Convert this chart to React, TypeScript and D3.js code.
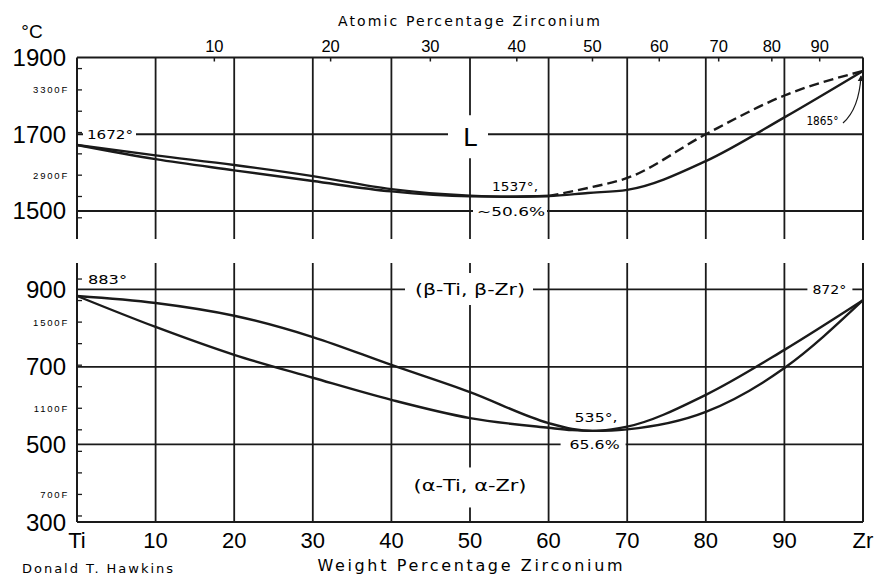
import React from 'react';
import * as d3 from 'd3';

const W = 877;
const H = 581;

// weight-percent grid & labels
const WT_GRID = [10, 20, 30, 40, 50, 60, 70, 80, 90];
const BOTTOM_WT = [0, 10, 20, 30, 40, 50, 60, 70, 80, 90, 100];
const BOTTOM_LABELS = ['Ti', '10', '20', '30', '40', '50', '60', '70', '80', '90', 'Zr'];
const ATOMIC_TICKS = [10, 20, 30, 40, 50, 60, 70, 80, 90];

// temperature axes
const UPPER_C_TICKS = [1900, 1700, 1500];
const LOWER_C_TICKS = [900, 700, 500, 300];
const UPPER_F_TICKS = [2700, 2800, 2900, 3000, 3100, 3200, 3300, 3400];
const LOWER_F_TICKS = [600, 700, 800, 900, 1000, 1100, 1200, 1300, 1400, 1500, 1600, 1700];
const UPPER_F_LABELS = [3300, 2900];
const LOWER_F_LABELS = [1500, 1100, 700];

// liquidus / solidus (weight % Zr, °C)
const LIQ_WT = [0, 10, 20, 30, 40, 50, 55, 60];
const LIQ_T = [1672, 1645, 1620, 1591, 1557, 1540, 1537, 1539];
const LIQ_DASH_WT = [60, 65, 70, 80, 90, 100];
const LIQ_DASH_T = [1539, 1560, 1586, 1700, 1801, 1865];
const SOL_WT = [0, 10, 20, 30, 40, 50, 55, 60, 65, 70, 80, 90, 100];
const SOL_T = [1672, 1635, 1606, 1578, 1551, 1538, 1537, 1539, 1547, 1555, 1630, 1744, 1865];

// beta / alpha transus (weight % Zr, °C)
const TR_WT = [0, 10, 20, 30, 40, 50, 60, 63, 65.6, 68, 70, 80, 90, 100];
const BETA_T = [883, 865, 832, 777, 705, 635, 555, 540, 535, 539, 546, 628, 744, 872];
const ALPHA_T = [883, 803, 731, 672, 615, 568, 543, 537, 535, 536, 539, 584, 697, 872];

const ZR = 91.22;
const TI = 47.87;
const atToWt = (a: number) => (100 * a * ZR) / (a * ZR + (100 - a) * TI);
const fToC = (f: number) => ((f - 32) * 5) / 9;

const x = d3.scaleLinear().domain([0, 100]).range([77, 863]);
const yU = d3.scaleLinear().domain([1427, 1900]).range([239, 57.5]);
const yL = d3.scaleLinear().domain([300, 968]).range([522, 263]);

const INK = '#1a1a1a';
const GRID_W = 1.8;
const SANS = 'Liberation Sans, Arial, sans-serif';
const LET = 'DejaVu Sans, Verdana, sans-serif';

const zip = (w: number[], t: number[]) => w.map((v, i) => ({ w: v, t: t[i] }));

export default function App() {
  const lineU = d3
    .line<{ w: number; t: number }>()
    .x((d) => x(d.w))
    .y((d) => yU(d.t))
    .curve(d3.curveMonotoneX);
  const lineL = d3
    .line<{ w: number; t: number }>()
    .x((d) => x(d.w))
    .y((d) => yL(d.t))
    .curve(d3.curveMonotoneX);

  const x0 = x(0);
  const x1 = x(100);
  const uTop = yU(1900);
  const uBot = yU(1427);
  const lTop = yL(968);
  const lBot = yL(300);

  const gaps = [
    { x: x0 + 6, y: yU(1700) - 6, w: 53, h: 12 },
    { x: x(50) - 22, y: yU(1700) - 6, w: 40, h: 12 },
    { x: x(50) - 5, y: yU(1700) - 19, w: 10, h: 43 },
    { x: x(50) + 3, y: yU(1500) - 6, w: 74, h: 12 },
    { x: x(50) - 65, y: yL(900) - 6, w: 128, h: 12 },
    { x: x(50) - 5, y: lTop + 10, w: 10, h: 32 },
    { x: x(90) + 23, y: yL(900) - 6, w: 45, h: 12 },
    { x: x(60) + 12, y: yL(500) - 6, w: 65, h: 12 },
    { x: x(50) - 5, y: yL(500) + 23, w: 10, h: 40 },
  ];

  return (
    <svg
      width={W}
      height={H}
      viewBox={`0 0 ${W} ${H}`}
      style={{ position: 'absolute', left: 0, top: 0, background: '#fff', display: 'block' }}
    >
      <defs>
        <marker id="arr" viewBox="0 0 10 10" refX="9" refY="5" markerWidth="5" markerHeight="6" orient="auto">
          <path d="M0,0 L10,5 L0,10 z" fill={INK} />
        </marker>
      </defs>
      <rect x={0} y={0} width={W} height={H} fill="#fff" />

      {WT_GRID.map((w) => (
        <g key={'v' + w}>
          <line x1={x(w)} x2={x(w)} y1={uTop} y2={uBot} stroke={INK} strokeWidth={GRID_W} />
          <line x1={x(w)} x2={x(w)} y1={lTop} y2={lBot} stroke={INK} strokeWidth={GRID_W} />
        </g>
      ))}
      {UPPER_C_TICKS.map((c) => (
        <line key={'hu' + c} x1={x0} x2={x1} y1={yU(c)} y2={yU(c)} stroke={INK} strokeWidth={GRID_W} />
      ))}
      {LOWER_C_TICKS.map((c) => (
        <line key={'hl' + c} x1={x0} x2={x1} y1={yL(c)} y2={yL(c)} stroke={INK} strokeWidth={GRID_W} />
      ))}
      <line x1={x0} x2={x0} y1={uTop} y2={uBot} stroke={INK} strokeWidth={2} />
      <line x1={x1} x2={x1} y1={uTop} y2={uBot + 1} stroke={INK} strokeWidth={2} />
      <line x1={x0} x2={x0} y1={lTop} y2={lBot} stroke={INK} strokeWidth={2} />
      <line x1={x1} x2={x1} y1={lTop} y2={lBot} stroke={INK} strokeWidth={2} />

      {gaps.map((g, i) => (
        <rect key={'g' + i} x={g.x} y={g.y} width={g.w} height={g.h} fill="#fff" />
      ))}

      {UPPER_F_TICKS.map((f) => (
        <line key={'fu' + f} x1={x0} x2={x0 + 5} y1={yU(fToC(f))} y2={yU(fToC(f))} stroke={INK} strokeWidth={1.3} />
      ))}
      {LOWER_F_TICKS.map((f) => (
        <line key={'fl' + f} x1={x0} x2={x0 + 5} y1={yL(fToC(f))} y2={yL(fToC(f))} stroke={INK} strokeWidth={1.3} />
      ))}
      {ATOMIC_TICKS.map((a) => (
        <line key={'at' + a} x1={x(atToWt(a))} x2={x(atToWt(a))} y1={uTop} y2={uTop + 4} stroke={INK} strokeWidth={1.5} />
      ))}

      <path d={lineU(zip(LIQ_WT, LIQ_T)) || ''} fill="none" stroke={INK} strokeWidth={2.4} />
      <path d={lineU(zip(SOL_WT, SOL_T)) || ''} fill="none" stroke={INK} strokeWidth={2.4} />
      <path
        d={lineU(zip(LIQ_DASH_WT, LIQ_DASH_T)) || ''}
        fill="none"
        stroke={INK}
        strokeWidth={2.4}
        strokeDasharray="10,5"
      />
      <path d={lineL(zip(TR_WT, BETA_T)) || ''} fill="none" stroke={INK} strokeWidth={2.4} />
      <path d={lineL(zip(TR_WT, ALPHA_T)) || ''} fill="none" stroke={INK} strokeWidth={2.4} />

      <path
        d={`M${x(100) - 20},${yU(1865) + 52} Q${x(100) - 4},${yU(1865) + 38} ${x(100) - 2},${yU(1865) + 5}`}
        fill="none"
        stroke={INK}
        strokeWidth={1.2}
        markerEnd="url(#arr)"
      />

      <text x={32} y={38} fontFamily={SANS} fontSize={19} textAnchor="middle" fill="#000">
        °C
      </text>
      {UPPER_C_TICKS.map((c) => (
        <text key={'lu' + c} x={66} y={yU(c) + 8.5} fontFamily={SANS} fontSize={24} textAnchor="end" fill="#000">
          {c}
        </text>
      ))}
      {LOWER_C_TICKS.map((c) => (
        <text key={'ll' + c} x={66} y={yL(c) + 8.5} fontFamily={SANS} fontSize={24} textAnchor="end" fill="#000">
          {c}
        </text>
      ))}
      {UPPER_F_LABELS.map((f) => (
        <text key={'fu' + f} x={69} y={yU(fToC(f)) + 3.5} fontFamily={SANS} fontSize={9.5} letterSpacing={1.8} textAnchor="end" fill="#000">
          {f + 'F'}
        </text>
      ))}
      {LOWER_F_LABELS.map((f) => (
        <text key={'flb' + f} x={69} y={yL(fToC(f)) + 3.5} fontFamily={SANS} fontSize={9.5} letterSpacing={1.8} textAnchor="end" fill="#000">
          {f + 'F'}
        </text>
      ))}
      {ATOMIC_TICKS.map((a) => (
        <text key={'atl' + a} x={x(atToWt(a))} y={52} fontFamily={SANS} fontSize={16.5} textAnchor="middle" fill="#000">
          {a}
        </text>
      ))}
      <text x={469} y={26} fontFamily={LET} fontSize={14} textAnchor="middle" textLength={262} lengthAdjust="spacing" fill="#000">
        Atomic Percentage Zirconium
      </text>
      {BOTTOM_WT.map((w, i) => (
        <text key={'bl' + w} x={x(w)} y={548} fontFamily={SANS} fontSize={22} textAnchor="middle" fill="#000">
          {BOTTOM_LABELS[i]}
        </text>
      ))}
      <text x={470} y={571} fontFamily={LET} fontSize={16} textAnchor="middle" textLength={305} lengthAdjust="spacing" fill="#000">
        Weight Percentage Zirconium
      </text>
      <text x={22} y={573} fontFamily={LET} fontSize={13} textLength={151} lengthAdjust="spacing" fill="#000">
        Donald T. Hawkins
      </text>

      <text x={x0 + 10} y={yU(1700) + 4.5} fontFamily={LET} fontSize={12.5} textLength={46} lengthAdjust="spacingAndGlyphs" fill="#000">
        1672°
      </text>
      <text x={x(50)} y={yU(1700) + 12} fontFamily={LET} fontSize={25} textAnchor="middle" fill="#000">
        L
      </text>
      <text x={x(50) + 22} y={yU(1537) - 6} fontFamily={LET} fontSize={12.5} textLength={46} lengthAdjust="spacingAndGlyphs" fill="#000">
        1537°,
      </text>
      <text x={x(50) + 7} y={yU(1500) + 5} fontFamily={LET} fontSize={12.5} textLength={68} lengthAdjust="spacingAndGlyphs" fill="#000">
        ~50.6%
      </text>
      <text x={x(90) + 22} y={yU(1865) + 54} fontFamily={LET} fontSize={12.5} textLength={32} lengthAdjust="spacingAndGlyphs" fill="#000">
        1865°
      </text>
      <text x={x0 + 11} y={yL(900) - 5} fontFamily={LET} fontSize={12} textLength={39} lengthAdjust="spacingAndGlyphs" fill="#000">
        883°
      </text>
      <text x={x(50)} y={yL(900) + 6} fontFamily={LET} fontSize={16} textAnchor="middle" textLength={110} lengthAdjust="spacingAndGlyphs" fill="#000">
        (β-Ti, β-Zr)
      </text>
      <text x={x(90) + 28} y={yL(900) + 5} fontFamily={LET} fontSize={12.5} textLength={34} lengthAdjust="spacingAndGlyphs" fill="#000">
        872°
      </text>
      <text x={x(60) + 26} y={yL(535) - 9} fontFamily={LET} fontSize={12.5} textLength={43} lengthAdjust="spacingAndGlyphs" fill="#000">
        535°,
      </text>
      <text x={x(60) + 21} y={yL(500) + 5} fontFamily={LET} fontSize={12.5} textLength={50} lengthAdjust="spacingAndGlyphs" fill="#000">
        65.6%
      </text>
      <text x={x(50)} y={yL(500) + 47} fontFamily={LET} fontSize={16} textAnchor="middle" textLength={113} lengthAdjust="spacingAndGlyphs" fill="#000">
        (α-Ti, α-Zr)
      </text>
    </svg>
  );
}
